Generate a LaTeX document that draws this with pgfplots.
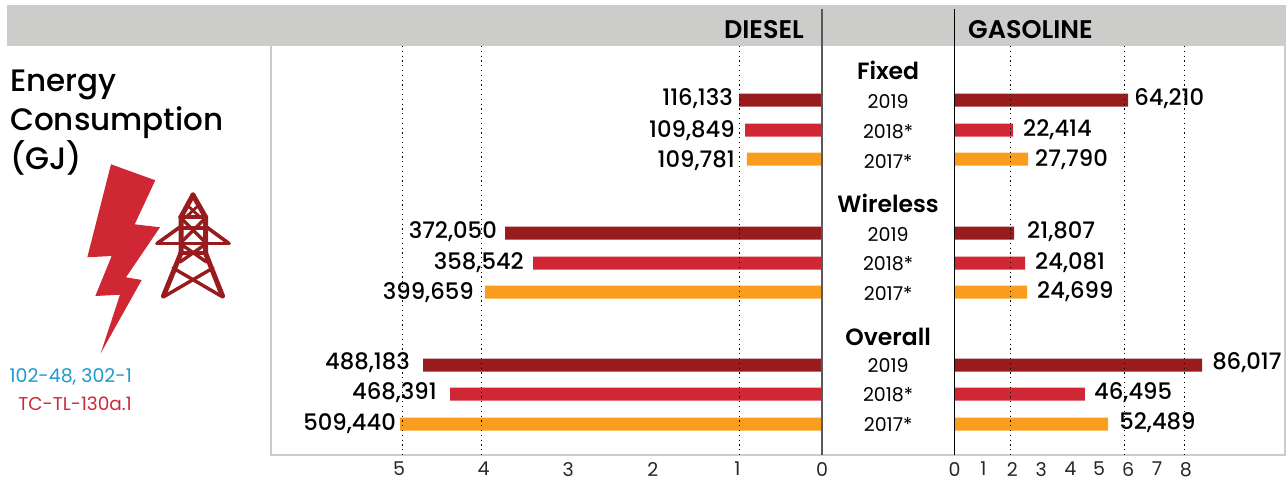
\documentclass[border=0pt]{standalone}
\usepackage{pgfplots}
\pgfplotsset{compat=1.18}
\usepackage{fontspec}
\setmainfont{Poppins}
\newfontfamily\med{Poppins Medium}
\newfontfamily\semi{Poppins SemiBold}
\definecolor{cA}{HTML}{981B1E}
\definecolor{cB}{HTML}{D02735}
\definecolor{cC}{HTML}{F99D1E}
\definecolor{hdr}{HTML}{CCCCCA}
\definecolor{blu}{HTML}{1B9BD1}
\pgfplotsset{
 common/.style={
  scale only axis, y dir=reverse, ymin=46, ymax=455, height=409pt,
  axis on top, clip=false, xbar, bar shift=0pt, bar width=13pt,
  axis line style={draw=none}, major tick length=0pt,
  tick style={draw=none},
  /pgf/number format/assume math mode=true,
  x tick label style={font=\fontsize{19}{19}\selectfont\color{black!85}, inner sep=0pt, yshift=-7pt},
  extra x tick style={grid=major, xticklabels={}},
  extra x tick labels={},
  major grid style={black, line width=1pt, dash pattern=on 1.2pt off 3.6pt},
  point meta=explicit symbolic,
  visualization depends on={\thisrow{gap}\as\gap},
  visualization depends on={\thisrow{dy}\as\dy},
  nodes near coords={\pgfplotspointmeta},
  every node near coord/.append style={inner sep=0pt, text=black, font=\fontsize{22.7}{22.7}\selectfont\med, yshift=\dy pt},
 },
 bs/.style={draw=none, fill=#1},
}
\begin{document}
\begin{tikzpicture}[x=1pt,y=1pt]
\useasboundingbox (0,0) rectangle (1287,479);
\fill[hdr] (7,433) rectangle (1286,474);
% frame
\draw[black!20, line width=1.5pt] (271,433) -- (271,24) -- (1285,24) -- (1285,433);

% DIESEL
\begin{axis}[common, at={(271pt,24pt)}, anchor=south west, width=551pt,
  x dir=reverse, xmin=0, xmax=6.513,
  xtick={0,1,2,3,4,5}, ytick=\empty,
  extra x ticks={0.97,4.02,4.96},
  every node near coord/.append style={anchor=east, xshift=-\gap pt}]
\addplot[bs=cA] table[x=x,y=y,meta=label] {
x y gap dy label
0.981 100 6 1.5 116,133
3.747 233 8 1 372,050
4.716 365 13 2.5 488,183
};
\addplot[bs=cB] table[x=x,y=y,meta=label] {
x y gap dy label
0.910 130 10 -0.5 109,849
3.416 263 9 0.5 358,542
4.397 394 13 1.5 468,391
};
\addplot[bs=cC] table[x=x,y=y,meta=label] {
x y gap dy label
0.887 159 12 -1.5 109,781
3.983 292 11 -0.5 399,659
4.988 424 4 0.5 509,440
};
\end{axis}

% GASOLINE
\begin{axis}[common, at={(954.6pt,24pt)}, anchor=south west, width=330.4pt,
  xmin=0, xmax=11.43,
  xtick={0,1,2,3,4,5,6,7,8},
  ytick={70,101,131,161,203,234,263,293,336,365,394,424},
  yticklabels={\fontsize{23.5}{23.5}\selectfont\semi Fixed,2019,2018*,2017*,
               \fontsize{23.5}{23.5}\selectfont\semi Wireless,2019,2018*,2017*,
               \fontsize{23.5}{23.5}\selectfont\semi Overall,2019,2018*,2017*},
  y tick label style={anchor=center, xshift=-66.5pt, yshift=-0.7pt, font=\fontsize{19}{19}\selectfont},
  extra x ticks={1.92,5.88,7.95},
  every node near coord/.append style={anchor=west, xshift=\gap pt}]
\addplot[bs=cA] table[x=x,y=y,meta=label] {
x y gap dy label
6.00 100 6 1 64,210
2.055 233 13 1 21,807
8.56 365 10 2.5 86,017
};
\addplot[bs=cB] table[x=x,y=y,meta=label] {
x y gap dy label
2.02 130 10 0 22,414
2.436 263 10 0 24,081
4.51 394 9 1 46,495
};
\addplot[bs=cC] table[x=x,y=y,meta=label] {
x y gap dy label
2.54 159 7 -1 27,790
2.505 292 10 0 24,699
5.31 424 11 1.5 52,489
};
\end{axis}

% zero lines
\draw[black!65, line width=1.5pt] (822,470) -- (822,24);
\draw[black, line width=1.2pt] (954.6,470) -- (954.6,24);

% header text
\node[anchor=east, inner sep=0pt, font=\fontsize{25.5}{25.5}\selectfont\semi] at (804,449.5) {DIESEL};
\node[anchor=west, inner sep=0pt, font=\fontsize{25.5}{25.5}\selectfont\semi] at (968,449.5) {GASOLINE};

% side title
\node[anchor=base west, inner sep=0pt, font=\fontsize{31}{31}\selectfont\med] at (10,387) {Energy};
\node[anchor=base west, inner sep=0pt, font=\fontsize{31}{31}\selectfont\med] at (10,348) {Consumption};
\node[anchor=base west, inner sep=0pt, font=\fontsize{31}{31}\selectfont\med] at (10,309.5) {(GJ)};
\node[anchor=east, inner sep=0pt, text=blu, font=\fontsize{18.9}{18.9}\selectfont] at (132,102) {102-48, 302-1};
\node[anchor=east, inner sep=0pt, text=cB, font=\fontsize{18.5}{18.5}\selectfont] at (132,75) {TC-TL-130a.1};

% bolt
\fill[cB] (111,479-164.3) -- (155.3,479-180.3) -- (134.7,479-224.3) -- (160,479-227.3) -- (126,479-277.3) -- (141.7,479-280) -- (100.7,479-353.3) -- (120,479-294.7) -- (95.3,479-296) -- (111.7,479-256) -- (87.3,479-257.3) -- cycle;
% tower
\begin{scope}[cA, line width=5pt, line cap=round, line join=round]
\draw (193,479-195) -- (181,479-217) -- (181,479-253) -- (163.5,479-296);
\draw (193,479-195) -- (205.5,479-217) -- (205.5,479-253) -- (222.5,479-296);
\draw[line width=3.6pt] (157,479-243.5) -- (229,479-243.5);
\draw[line width=3.6pt] (157,479-243.5) -- (180,479-227);
\draw[line width=3.6pt] (229,479-243.5) -- (206.5,479-227);
\draw[line width=3.4pt] (180,479-217) -- (206.5,479-217);
\draw[line width=3.4pt] (180,479-228) -- (206.5,479-228);
\draw[line width=3.4pt] (180,479-253) -- (206.5,479-253);
\draw[line width=3.4pt] (180,479-217) -- (206.5,479-243.5);
\draw[line width=3.4pt] (206.5,479-217) -- (180,479-243.5);
\draw[line width=3.4pt] (180,479-243.5) -- (206.5,479-262);
\draw[line width=3.4pt] (206.5,479-243.5) -- (180,479-262);
\draw[line width=3.4pt] (165,479-296) -- (213,479-268);
\draw[line width=3.4pt] (221,479-296) -- (173,479-268);
\draw[line width=2.8pt] (187,479-205) -- (200,479-217);
\draw[line width=2.8pt] (199,479-205) -- (186,479-217);
\end{scope}
\end{tikzpicture}
\end{document}
